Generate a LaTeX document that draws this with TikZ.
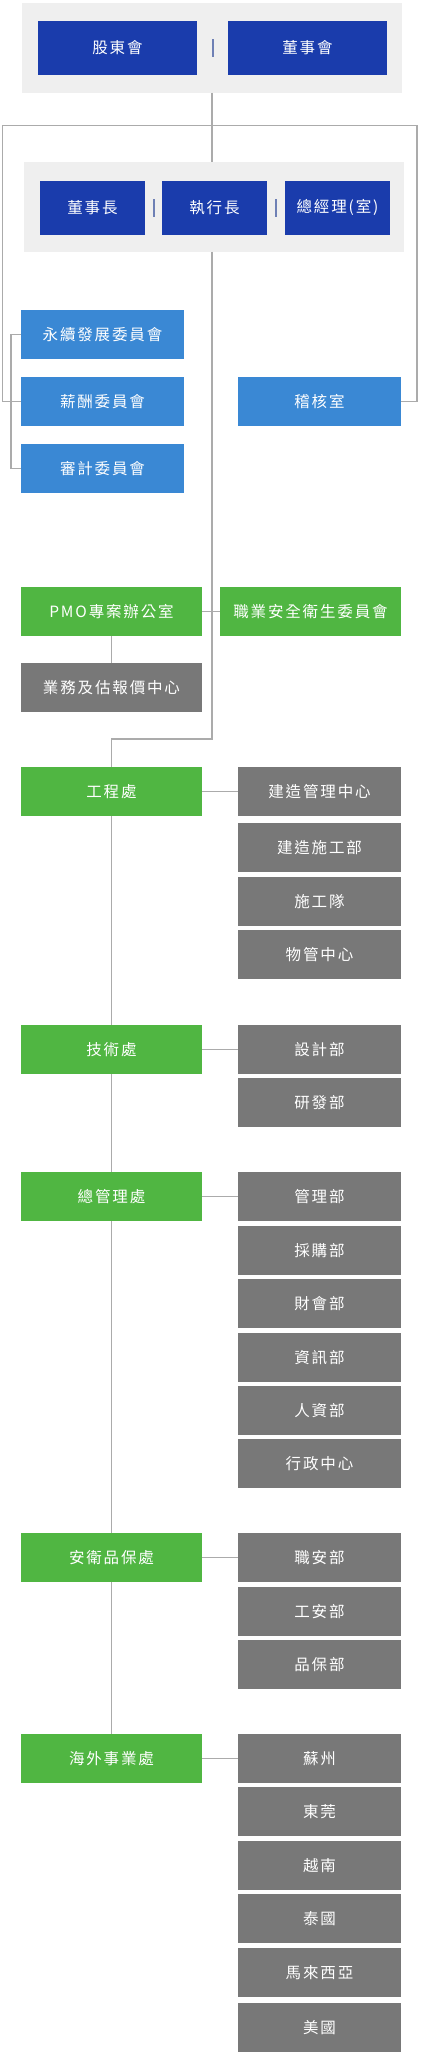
\documentclass[tikz,border=0pt]{standalone}
\usepackage{fontspec}
\newfontfamily\cjk[LetterSpace=12]{Noto Sans CJK TC}
\usetikzlibrary{calc}
\definecolor{cdblue}{HTML}{1A3CAC}
\definecolor{clblue}{HTML}{3A88D4}
\definecolor{cgreen}{HTML}{50B642}
\definecolor{cgray}{HTML}{787878}
\definecolor{cbg}{HTML}{EFEFEF}
\definecolor{cline}{HTML}{ABABAB}
\definecolor{csep}{HTML}{6E80B5}
\tikzset{
  box/.style={inner sep=0pt, text=white, font=\cjk\fontsize{15.5}{18}\selectfont, minimum height=48.7pt},
  topbox/.style={box, fill=cdblue, minimum height=53.7pt},
  combox/.style={box, fill=clblue, minimum width=163pt},
  divbox/.style={box, fill=cgreen, minimum width=181pt},
  subbox/.style={box, fill=cgray, minimum width=163pt},
  bgpanel/.style={fill=cbg, inner sep=0pt, minimum width=380pt, minimum height=89.7pt},
  conn/.style={draw=cline, line width=1.3pt},
  sepline/.style={draw=csep, line width=2pt}
}
\begin{document}
\begin{tikzpicture}[x=1pt,y=1pt]
\useasboundingbox (0,0) rectangle (421,-2060);
% panels
\node[bgpanel] (bgA) at (212,-47.85) {};
\node[bgpanel] (bgB) at (214,-206.85) {};
\node[topbox, minimum width=159pt] (gdh) at (117.5,-47.85) {股東會};
\node[topbox, minimum width=159pt] (dsh) at (307.5,-47.85) {董事會};
\node[topbox, minimum width=105pt] (dsz) at (92.5,-207.85) {董事長};
\node[topbox, minimum width=105pt] (zxz) at (214.5,-207.85) {執行長};
\node[topbox, minimum width=105pt] (zjl) at (337.5,-207.85) {總經理(室)};
% separators
\draw[sepline] ($(gdh.east)!0.5!(dsh.west)+(0,8.7)$) -- ($(gdh.east)!0.5!(dsh.west)-(0,8.7)$);
\draw[sepline] ($(dsz.east)!0.5!(zxz.west)+(0,8.7)$) -- ($(dsz.east)!0.5!(zxz.west)-(0,8.7)$);
\draw[sepline] ($(zxz.east)!0.5!(zjl.west)+(0,8.7)$) -- ($(zxz.east)!0.5!(zjl.west)-(0,8.7)$);
% committees
\node[combox] (ysw) at (102.5,-334.5) {永續發展委員會};
\node[combox] (xc) at (102.5,-401.35) {薪酬委員會};
\node[combox] (sj) at (102.5,-468.35) {審計委員會};
\node[combox] (jh) at (319.5,-401.35) {稽核室};
% PMO
\node[divbox] (pmo) at (111.5,-611.35) {PMO專案辦公室};
\node[divbox] (zy) at (310.5,-611.35) {職業安全衛生委員會};
\node[divbox, fill=cgray] (yw) at (111.5,-687.35) {業務及估報價中心};
% divisions
\node[divbox] (gc) at (111.5,-791.35) {工程處};
\node[divbox] (js) at (111.5,-1049.35) {技術處};
\node[divbox] (zg) at (111.5,-1196.35) {總管理處};
\node[divbox] (aw) at (111.5,-1557.35) {安衛品保處};
\node[divbox] (hw) at (111.5,-1758.35) {海外事業處};
% sub units
\node[subbox] (gc1) at (319.5,-791.35) {建造管理中心};
\node[subbox] (gc2) at (319.5,-847.35) {建造施工部};
\node[subbox] (gc3) at (319.5,-901.35) {施工隊};
\node[subbox] (gc4) at (319.5,-954.35) {物管中心};
\node[subbox] (js1) at (319.5,-1049.35) {設計部};
\node[subbox] (js2) at (319.5,-1102.65) {研發部};
\node[subbox] (zg1) at (319.5,-1196.35) {管理部};
\node[subbox] (zg2) at (319.5,-1250.35) {採購部};
\node[subbox] (zg3) at (319.5,-1303.65) {財會部};
\node[subbox] (zg4) at (319.5,-1357.35) {資訊部};
\node[subbox] (zg5) at (319.5,-1410.35) {人資部};
\node[subbox] (zg6) at (319.5,-1463.35) {行政中心};
\node[subbox] (aw1) at (319.5,-1557.35) {職安部};
\node[subbox] (aw2) at (319.5,-1611.35) {工安部};
\node[subbox] (aw3) at (319.5,-1664.35) {品保部};
\node[subbox] (hw1) at (319.5,-1758.35) {蘇州};
\node[subbox] (hw2) at (319.5,-1811.35) {東莞};
\node[subbox] (hw3) at (319.5,-1865.35) {越南};
\node[subbox] (hw4) at (319.5,-1918.35) {泰國};
\node[subbox] (hw5) at (319.5,-1972.35) {馬來西亞};
\node[subbox] (hw6) at (319.5,-2027.35) {美國};
% coordinates
\coordinate (junc) at (212,-125.3);
\coordinate (lx) at (2.7,-125.3);
\coordinate (rx) at (417,-125.3);
\coordinate (bx) at (11,0);
\coordinate (turnA) at (212,-739);
\coordinate (turnB) at (111.5,-739);
% connectors
\draw[conn] (bgA.south) -- (bgA.south |- bgB.north);
\draw[conn] (junc) -- (lx) |- (xc.west);
\draw[conn] (junc) -- (rx) |- (jh.east);
\draw[conn] (ysw.west) -- (ysw.west -| bx) -- (sj.west -| bx) -- (sj.west);
\draw[conn] (bgB.south -| junc) -- (turnA) -- (turnB) -- (gc.north);
\draw[conn] (pmo.east) -- (zy.west);
\draw[conn] (pmo.south) -- (yw.north);
\draw[conn] (gc.south) -- (js.north);
\draw[conn] (js.south) -- (zg.north);
\draw[conn] (zg.south) -- (aw.north);
\draw[conn] (aw.south) -- (hw.north);
\draw[conn] (gc.east) -- (gc1.west);
\draw[conn] (js.east) -- (js1.west);
\draw[conn] (zg.east) -- (zg1.west);
\draw[conn] (aw.east) -- (aw1.west);
\draw[conn] (hw.east) -- (hw1.west);
\end{tikzpicture}
\end{document}
